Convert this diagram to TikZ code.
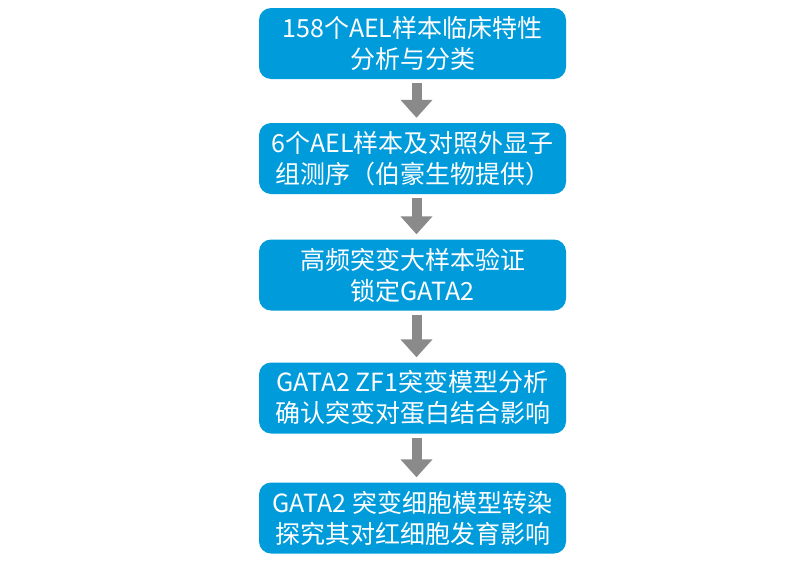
\documentclass[tikz,border=0pt]{standalone}
\usepackage{fontspec}
\setmainfont{Noto Sans CJK SC}
\usetikzlibrary{arrows.meta,positioning}
\definecolor{boxblue}{RGB}{0,155,219}
\definecolor{arrgray}{RGB}{138,138,138}
\tikzset{
  stepbox/.style={fill=boxblue, rounded corners=12pt, minimum width=307pt,
    minimum height=71pt, inner sep=0pt, align=center, text=white,
    font=\fontsize{25}{31}\selectfont},
  flow/.style={arrgray, line width=10pt,
    -{Triangle[width=31pt,length=18pt]}, shorten <=4pt, shorten >=5pt}
}
\begin{document}
\begin{tikzpicture}[x=1pt,y=1pt]
  \useasboundingbox (0,0) rectangle (800,-565);
  \pgfmathsetmacro{\cx}{412.5};
  \node[stepbox] (clinic) at (\cx,-43.5) {158个AEL样本临床特性\\分析与分类};
  \node[stepbox] (exome)  at (\cx,-158.5) {6个AEL样本及对照外显子\\组测序（伯豪生物提供）};
  \node[stepbox] (verify) at (\cx,-275) {高频突变大样本验证\\锁定GATA2};
  \node[stepbox] (model)  at (\cx,-398) {GATA2 ZF1突变模型分析\\确认突变对蛋白结合影响};
  \node[stepbox] (cell)   at (\cx,-518) {GATA2 突变细胞模型转染\\探究其对红细胞发育影响};
  % arrows between the steps
  \draw[flow] ([xshift=4pt]clinic.south) -- ([xshift=4pt]exome.north);
  \draw[flow] ([xshift=4pt]exome.south) -- ([xshift=4pt]verify.north);
  \draw[flow] ([xshift=4pt]verify.south) -- ([xshift=4pt]model.north);
  \draw[flow] ([xshift=4pt]model.south) -- ([xshift=4pt]cell.north);
\end{tikzpicture}
\end{document}
